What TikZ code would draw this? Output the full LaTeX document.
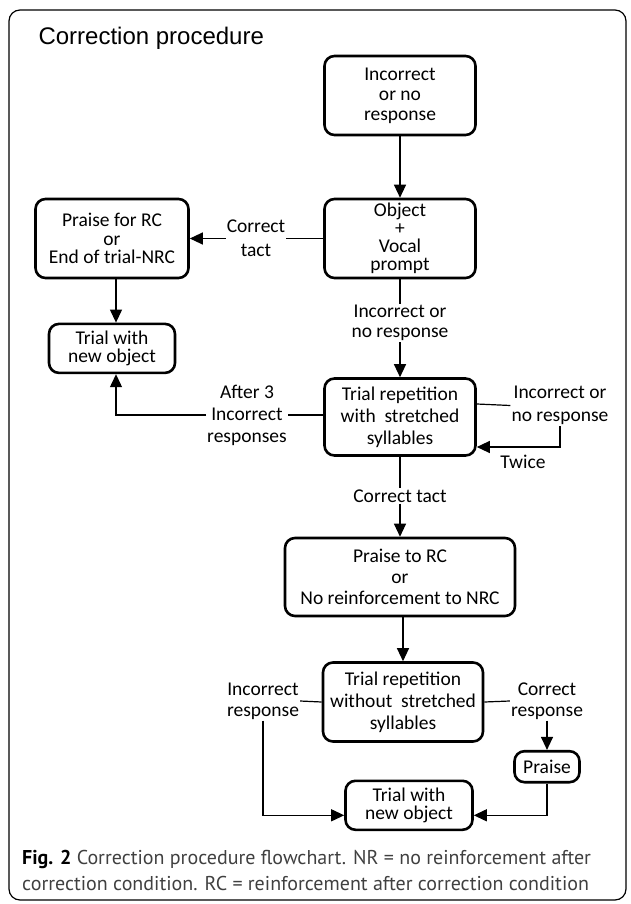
\documentclass[tikz,border=0pt]{standalone}
\usepackage{fontspec}
\setmainfont{Carlito}
\newfontfamily\titlefont{Liberation Sans}
\newfontfamily\capfont{PT Sans}
\usetikzlibrary{arrows.meta}
\begin{document}
\begin{tikzpicture}[x=1pt,y=-1pt,
  box/.style={draw, line width=2.6pt, rounded corners=10pt, align=center, inner sep=0pt},
  lab/.style={fill=white, align=center, inner sep=1pt},
  conn/.style={line width=1.2pt},
  arr/.style={conn, -{Triangle[width=12pt,length=13pt]}},
]
\useasboundingbox (0,0) rectangle (630,904);
\draw[line width=1.2pt, rounded corners=11pt] (9,10) rectangle (626,900);

\node[anchor=base west, font=\titlefont\fontsize{24}{28}\selectfont] (title) at (35,45) {Correction procedure};

% boxes
\node[box, minimum width=151pt, minimum height=79pt, font=\fontsize{19.5}{20}\selectfont] (A) at (400,95.5) {Incorrect\\or no\\response};
\node[box, minimum width=151pt, minimum height=79pt, font=\fontsize{19.5}{18}\selectfont] (B) at (400,238.5) {Object\\+\\Vocal\\prompt};
\node[box, minimum width=153pt, minimum height=79pt, font=\fontsize{19.5}{18.5}\selectfont] (C) at (112,238.5) {Praise for RC\\or\\End of trial-NRC};
\node[box, minimum width=126pt, minimum height=49pt, font=\fontsize{19.5}{18.5}\selectfont] (D) at (112,348.4) {Trial with\\new object};
\node[box, minimum width=151pt, minimum height=77pt, font=\fontsize{19.5}{22}\selectfont] (E) at (400,417) {Trial repetition\\with\ \ stretched\\syllables};
\node[box, minimum width=230pt, minimum height=78pt, font=\fontsize{19.5}{21}\selectfont] (F) at (400,577) {Praise to RC\\or\\No reinforcement to NRC};
\node[box, minimum width=160pt, minimum height=79pt, font=\fontsize{19.5}{22}\selectfont] (G) at (403,702) {Trial repetition\\without\ \ stretched\\syllables};
\node[box, minimum width=65pt, minimum height=31pt, font=\fontsize{19.5}{20}\selectfont] (H) at (547,766.7) {Praise};
\node[box, minimum width=127pt, minimum height=49pt, font=\fontsize{19.5}{18.5}\selectfont] (I) at (409,805.3) {Trial with\\new object};

% labels
\node[lab, font=\fontsize{19.5}{24}\selectfont] (L1) at (256,238.5) {Correct\\tact};
\node[lab, font=\fontsize{19.5}{20}\selectfont] (L2) at (400,323) {Incorrect or\\no response};
\node[lab, font=\fontsize{19.5}{22}\selectfont] (L3) at (247,415) {After 3\\Incorrect\\responses};
\node[lab, font=\fontsize{19.5}{23}\selectfont] (L4) at (560,405.5) {Incorrect or\\no response};
\node[lab, font=\fontsize{19.5}{22}\selectfont] (L5) at (523,462) {Twice};
\node[lab, font=\fontsize{19.5}{22}\selectfont] (L6) at (400,496) {Correct tact};
\node[lab, font=\fontsize{19.5}{21}\selectfont] (L7) at (263,701) {Incorrect\\response};
\node[lab, font=\fontsize{19.5}{21}\selectfont] (L8) at (547,701) {Correct\\response};

% connectors
\draw[arr] (A) -- (B);
\draw[conn] (B.west) -- (L1.east);
\draw[arr] (L1.west) -- (C.east);
\draw[arr] ([xshift=4pt]C.south) -- ([xshift=4pt]D.north);
\draw[conn] (B.south) -- (L2.north);
\draw[arr] (L2.south) -- (E.north);
\draw[conn] ([yshift=2pt]E.west) -- (L3.east);
\draw[arr] (L3.west) -| ([xshift=4pt]D.south);
\draw[conn] ([yshift=13pt]E.east) -- (L4.west);
\draw[arr] (L4.south) |- ([yshift=-30pt]E.east);
\draw[conn] (E.south) -- (L6.north);
\draw[arr] (L6.south) -- (F.north);
\draw[arr] (F.south -| G.north) -- (G.north);
\draw[conn] (G.west) -- (L7.east);
\draw[arr] (L7.south) |- ([yshift=-10pt]I.west);
\draw[conn] (G.east) -- (L8.west);
\draw[arr] (L8.south) -- (H.north);
\draw[arr] (H.south) |- ([yshift=-10pt]I.east);

% caption
\node[anchor=base west, inner sep=0pt, font=\capfont\fontsize{20}{26}\selectfont, text=black!75] (cap1) at (22,864) {\textbf{\color{black}Fig. 2} Correction procedure flowchart. NR = no reinforcement after};
\node[anchor=base west, inner sep=0pt, font=\capfont\fontsize{20}{26}\selectfont, text=black!75] (cap2) at (22,890) {correction condition. RC = reinforcement after correction condition};
\end{tikzpicture}
\end{document}
